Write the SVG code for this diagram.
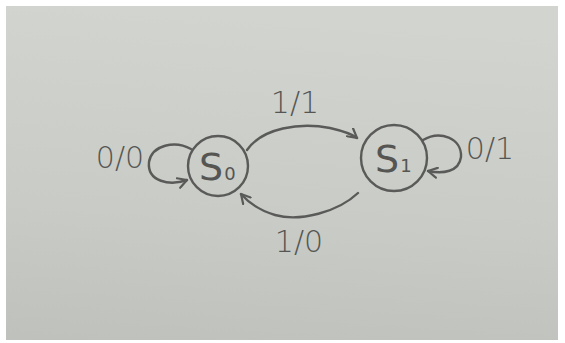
<svg xmlns="http://www.w3.org/2000/svg" width="565" height="343" viewBox="0 0 565 343">
  <defs>
    <linearGradient id="paper" x1="0.2" y1="0" x2="0.1" y2="1">
      <stop offset="0" stop-color="#d2d4d0"/>
      <stop offset="0.6" stop-color="#c8cbc6"/>
      <stop offset="1" stop-color="#bec1bc"/>
    </linearGradient>
    <marker id="arr" viewBox="0 0 12 12" refX="10" refY="6" markerWidth="12" markerHeight="12" markerUnits="userSpaceOnUse" orient="auto">
      <path d="M1,1 L10,6 L1,11" fill="none" stroke="#5a5b59" stroke-width="2.2" stroke-linecap="round" stroke-linejoin="round"/>
    </marker>
    <style>
      .pen { fill: none; stroke: #5a5b59; stroke-width: 2.4; stroke-linecap: round; }
      .lbl { font-family: "DejaVu Sans", sans-serif; font-weight: 300; font-size: 30px; fill: #555653; text-anchor: middle; }
      .st { font-family: "DejaVu Sans", sans-serif; font-size: 38px; fill: #555653; }
      .sub { font-size: 18px; }
    </style>
  </defs>
  <rect x="0" y="0" width="565" height="343" fill="#ffffff"/>
  <rect x="6" y="6" width="552" height="334" fill="url(#paper)"/>

  <g id="connectors">
    <path class="pen" marker-end="url(#arr)" d="M247,150 C262,128 300,122 330,128 C343,131 352,134 357,138"/>
    <path class="pen" marker-end="url(#arr)" d="M358,193 C338,212 300,222 275,215 C258,210 248,202 241,194"/>
    <path class="pen" marker-end="url(#arr)" d="M191,149 C175,140 152,145 149,162 C147,182 170,186 187,180"/>
    <path class="pen" marker-end="url(#arr)" d="M423,140 C440,130 462,138 461,157 C459,172 443,174 428,171"/>
  </g>

  <g id="S0">
    <circle class="pen" cx="218" cy="166" r="30"/>
    <text class="st" x="199" y="180">S<tspan class="sub" dx="1">0</tspan></text>
  </g>
  <g id="S1">
    <circle class="pen" cx="394" cy="158" r="33"/>
    <text class="st" x="375" y="172">S<tspan class="sub" dx="1">1</tspan></text>
  </g>

  <g id="labels">
    <text class="lbl" x="120" y="168">0/0</text>
    <text class="lbl" x="295" y="113">1/1</text>
    <text class="lbl" x="299" y="252">1/0</text>
    <text class="lbl" x="490" y="159">0/1</text>
  </g>
</svg>
